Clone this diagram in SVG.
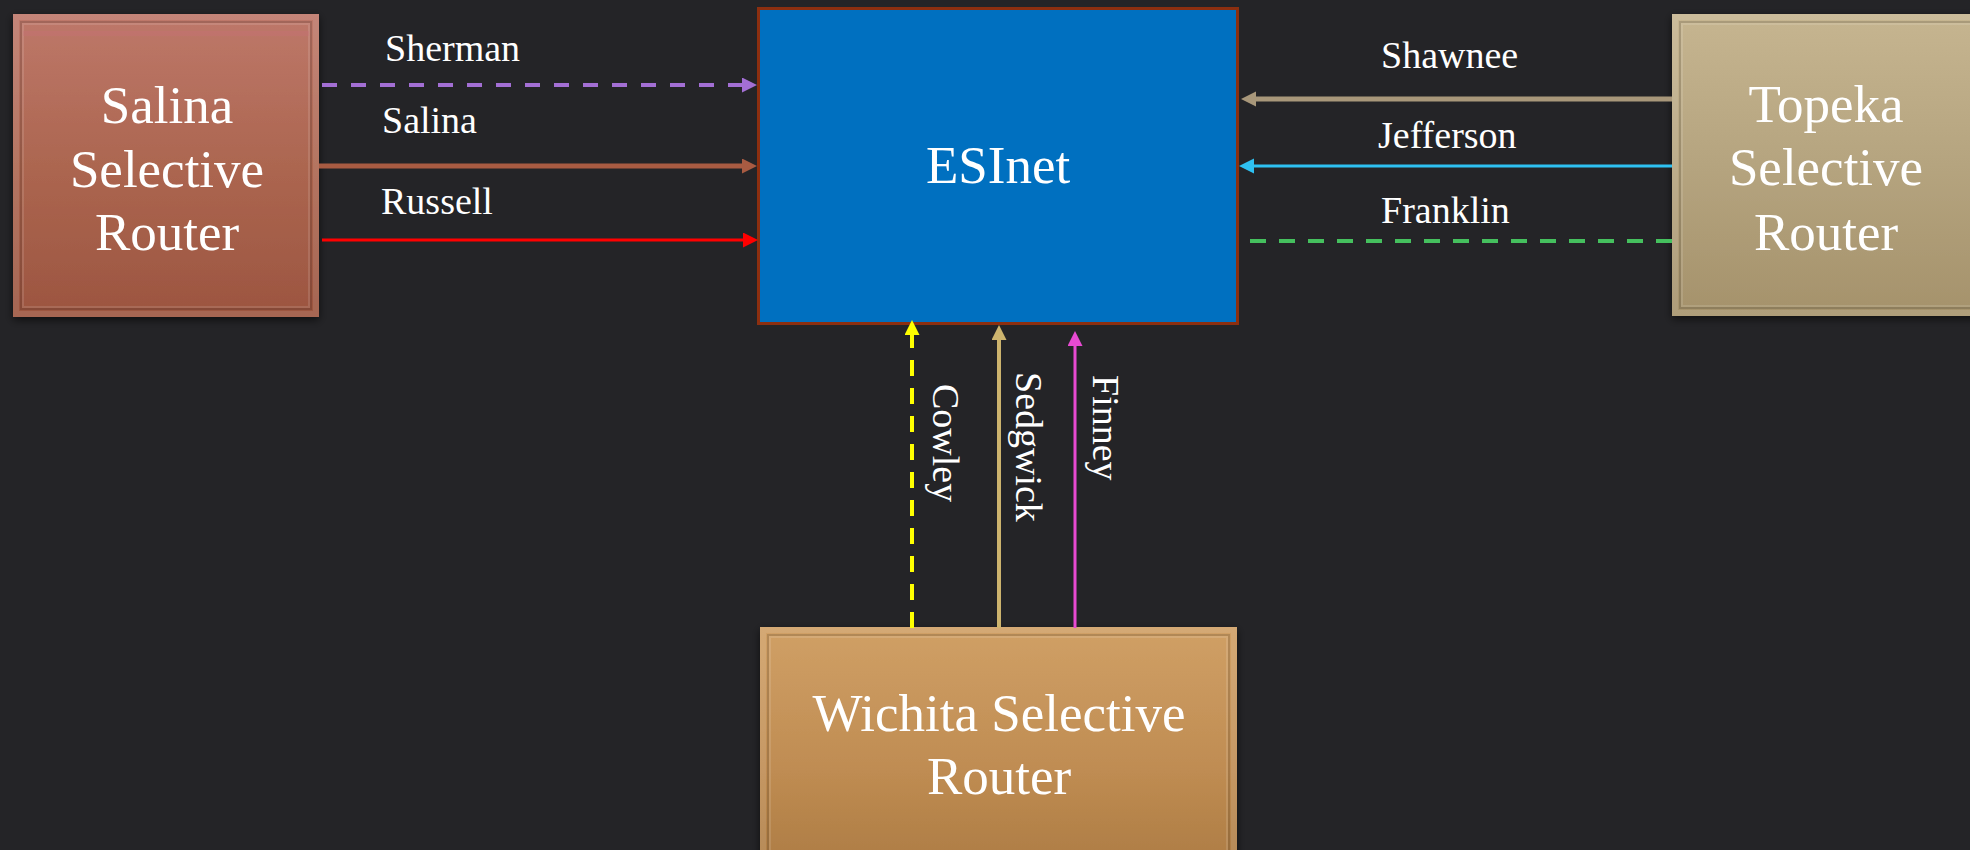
<svg xmlns="http://www.w3.org/2000/svg" width="1970" height="850" viewBox="0 0 1970 850">
<defs>
<style>
.bg{fill:#242427}
.ntext{font-family:"Liberation Serif","Times New Roman",serif;font-size:53px;fill:#ffffff;text-anchor:middle}
.lbl{font-family:"Liberation Serif","Times New Roman",serif;font-size:38px;fill:#ffffff}
.frame{fill:none;stroke:#000000;stroke-opacity:0.14;stroke-width:2}
.hilite{fill:none;stroke:#ffffff;stroke-opacity:0.12;stroke-width:2}
.edge{fill:none;stroke:#ffffff;stroke-opacity:0.10;stroke-width:6}
</style>
<linearGradient id="gSalina" x1="0" y1="0" x2="0" y2="1">
<stop offset="0" stop-color="#BE786A"/>
<stop offset="0.5" stop-color="#AC6650"/>
<stop offset="1" stop-color="#9C5540"/>
</linearGradient>
<linearGradient id="gTopeka" x1="0" y1="0" x2="0" y2="1">
<stop offset="0" stop-color="#C6B590"/>
<stop offset="0.5" stop-color="#B5A47F"/>
<stop offset="1" stop-color="#A5926B"/>
</linearGradient>
<linearGradient id="gWichita" x1="0" y1="0" x2="0" y2="1">
<stop offset="0" stop-color="#D0A066"/>
<stop offset="0.6" stop-color="#BF8C52"/>
<stop offset="1" stop-color="#AD7C44"/>
</linearGradient>
<filter id="shadow" x="-10%" y="-10%" width="120%" height="120%">
<feDropShadow dx="0" dy="3" stdDeviation="4" flood-color="#000000" flood-opacity="0.6"/>
</filter>
<marker id="mPurple" markerUnits="userSpaceOnUse" markerWidth="16" markerHeight="16" refX="3" refY="7.5" orient="auto"><path d="M0,0 L15,7.5 L0,15 z" fill="#A36FD4"/></marker>
<marker id="mBrown" markerUnits="userSpaceOnUse" markerWidth="16" markerHeight="16" refX="3" refY="7.5" orient="auto"><path d="M0,0 L15,7.5 L0,15 z" fill="#A85B42"/></marker>
<marker id="mRed" markerUnits="userSpaceOnUse" markerWidth="16" markerHeight="16" refX="3" refY="7.5" orient="auto"><path d="M0,0 L15,7.5 L0,15 z" fill="#FF0000"/></marker>
<marker id="mTan" markerUnits="userSpaceOnUse" markerWidth="16" markerHeight="16" refX="3" refY="7.5" orient="auto"><path d="M0,0 L15,7.5 L0,15 z" fill="#A8977A"/></marker>
<marker id="mCyan" markerUnits="userSpaceOnUse" markerWidth="16" markerHeight="16" refX="3" refY="7.5" orient="auto"><path d="M0,0 L15,7.5 L0,15 z" fill="#2EC1F2"/></marker>
<marker id="mYellow" markerUnits="userSpaceOnUse" markerWidth="16" markerHeight="16" refX="3" refY="7.5" orient="auto"><path d="M0,0 L15,7.5 L0,15 z" fill="#FFFF00"/></marker>
<marker id="mGold" markerUnits="userSpaceOnUse" markerWidth="16" markerHeight="16" refX="3" refY="7.5" orient="auto"><path d="M0,0 L15,7.5 L0,15 z" fill="#CDB46E"/></marker>
<marker id="mPink" markerUnits="userSpaceOnUse" markerWidth="16" markerHeight="16" refX="3" refY="7.5" orient="auto"><path d="M0,0 L15,7.5 L0,15 z" fill="#E84AD2"/></marker>
</defs>
<rect class="bg" x="0" y="0" width="1970" height="850"/>

<g id="salina">
<rect x="13" y="14" width="306" height="303" fill="url(#gSalina)" filter="url(#shadow)"/>
<rect class="edge" x="16" y="17" width="300" height="297"/>
<rect class="frame" x="21" y="22" width="290" height="287"/>
<rect class="hilite" x="23" y="24" width="286" height="283"/>
<rect x="23" y="31" width="286" height="5" fill="#C87078" fill-opacity="0.35"/>
<text class="ntext" x="167" y="123">Salina</text>
<text class="ntext" x="167" y="187">Selective</text>
<text class="ntext" x="167" y="250">Router</text>
</g>

<g id="topeka">
<rect x="1672" y="14" width="310" height="302" fill="url(#gTopeka)" filter="url(#shadow)"/>
<rect class="edge" x="1675" y="17" width="310" height="296"/>
<rect class="frame" x="1680" y="22" width="300" height="286"/>
<rect class="hilite" x="1682" y="24" width="300" height="282"/>
<text class="ntext" x="1826" y="122">Topeka</text>
<text class="ntext" x="1826" y="185">Selective</text>
<text class="ntext" x="1826" y="250">Router</text>
</g>

<g id="wichita">
<rect x="760" y="627" width="477" height="240" fill="url(#gWichita)" filter="url(#shadow)"/>
<rect class="edge" x="763" y="630" width="471" height="240"/>
<rect class="frame" x="768" y="635" width="461" height="230"/>
<rect class="hilite" x="770" y="637" width="457" height="230"/>
<text class="ntext" x="999" y="731">Wichita Selective</text>
<text class="ntext" x="999" y="794">Router</text>
</g>

<g id="esinet">
<rect x="758.5" y="8.5" width="479" height="315" fill="#0070C0" stroke="#8C2F10" stroke-width="3"/>
<text class="ntext" x="998" y="183">ESInet</text>
</g>

<g id="connectors">
<line x1="322" y1="85" x2="745" y2="85" stroke="#A36FD4" stroke-width="4" stroke-dasharray="15 14" marker-end="url(#mPurple)"/>
<line x1="319" y1="166" x2="745" y2="166" stroke="#A85B42" stroke-width="5" marker-end="url(#mBrown)"/>
<line x1="322" y1="240" x2="746" y2="240" stroke="#FF0000" stroke-width="3" marker-end="url(#mRed)"/>
<line x1="1672" y1="99" x2="1253" y2="99" stroke="#A8977A" stroke-width="5" marker-end="url(#mTan)"/>
<line x1="1672" y1="166" x2="1251" y2="166" stroke="#2EC1F2" stroke-width="3" marker-end="url(#mCyan)"/>
<line x1="1672" y1="241" x2="1248" y2="241" stroke="#45C05E" stroke-width="4" stroke-dasharray="16 13"/>
<line x1="912" y1="628" x2="912" y2="332" stroke="#FFFF00" stroke-width="4" stroke-dasharray="16 12" marker-end="url(#mYellow)"/>
<line x1="999" y1="628" x2="999" y2="337" stroke="#CDB46E" stroke-width="4" marker-end="url(#mGold)"/>
<line x1="1075" y1="628" x2="1075" y2="343" stroke="#E84AD2" stroke-width="3" marker-end="url(#mPink)"/>
<text class="lbl" x="385" y="61">Sherman</text>
<text class="lbl" x="382" y="133">Salina</text>
<text class="lbl" x="381" y="214">Russell</text>
<text class="lbl" x="1381" y="68">Shawnee</text>
<text class="lbl" x="1378" y="148">Jefferson</text>
<text class="lbl" x="1381" y="223">Franklin</text>
<text class="lbl" transform="translate(933,384) rotate(90)">Cowley</text>
<text class="lbl" transform="translate(1016,372) rotate(90)">Sedgwick</text>
<text class="lbl" transform="translate(1093,375) rotate(90)">Finney</text>
</g>
</svg>
